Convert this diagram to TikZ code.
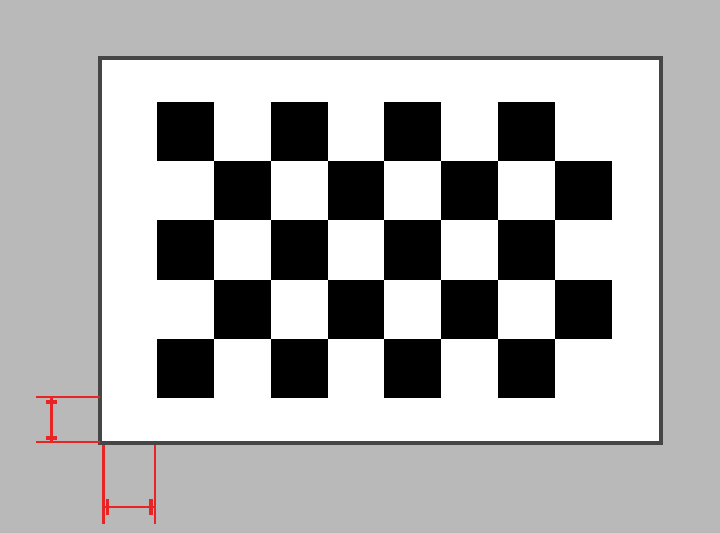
\documentclass[tikz,border=0pt]{standalone}
\begin{document}
\begin{tikzpicture}[x=0.5pt,y=-0.5pt]
\definecolor{bg}{RGB}{185,185,185}
\definecolor{framec}{RGB}{70,70,70}
\definecolor{dimred}{RGB}{232,36,36}
\tikzset{dimline/.style={draw=dimred, line width=1.4pt},
         tick/.style={draw=dimred, line width=1.8pt},
         sq/.style={fill=black}}
\fill[bg] (0,0) rectangle (720,533);
\useasboundingbox (0,0) rectangle (720,533);
% board
\draw[framec, line width=1.6pt, fill=white] (100,58) rectangle (661,443);
\foreach \r in {0,2,4}
  \foreach \c in {0,2,4,6}
    \fill[sq] (157+\c*56.875, 101.7+\r*59.32) rectangle +(56.875,59.32);
\foreach \r in {1,3}
  \foreach \c in {1,3,5,7}
    \fill[sq] (157+\c*56.875, 101.7+\r*59.32) rectangle +(56.875,59.32);
% vertical margin marker
\coordinate (a1) at (36,397);
\coordinate (a2) at (100,397);
\coordinate (b1) at (36,442);
\coordinate (b2) at (100,442);
\draw[dimline] (a1) -- (a2);
\draw[dimline] (b1) -- (b2);
\draw[dimline] (51.5,397) -- (51.5,442);
\draw[tick] (46,402) -- (57,402);
\draw[tick] (46,438) -- (57,438);
% horizontal margin marker
\coordinate (c1) at (103.5,445);
\coordinate (c2) at (103.5,524);
\coordinate (d1) at (155,445);
\coordinate (d2) at (155,524);
\draw[dimline] (c1) -- (c2);
\draw[dimline] (d1) -- (d2);
\draw[dimline] (103.5,507) -- (155,507);
\draw[tick] (107.5,499) -- (107.5,515);
\draw[tick] (151,499) -- (151,515);
\end{tikzpicture}
\end{document}
